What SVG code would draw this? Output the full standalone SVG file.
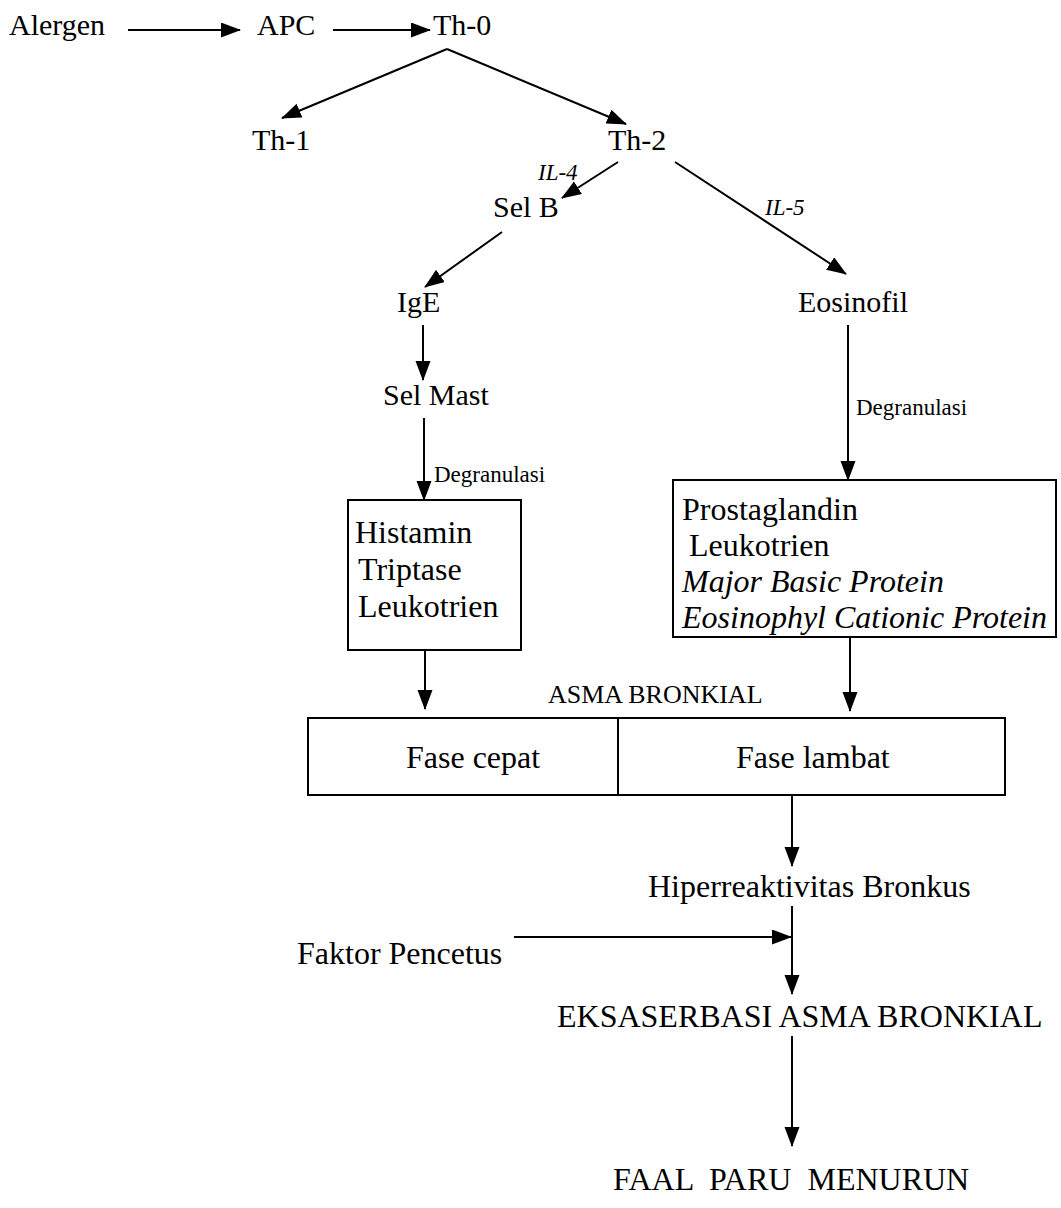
<svg xmlns="http://www.w3.org/2000/svg" width="1061" height="1208" viewBox="0 0 1061 1208">
<style>
text{font-family:"Liberation Serif","Times New Roman",serif;fill:#000}
.t{font-size:30px}
.b{font-size:32px}
.s{font-size:23px}
.i{font-size:23px;font-style:italic}
.bi{font-size:32px;font-style:italic}
.box{fill:none;stroke:#000;stroke-width:2}
.c{fill:none;stroke:#000;stroke-width:2;marker-end:url(#ah)}
.l{fill:none;stroke:#000;stroke-width:2}
</style>
<defs>
<marker id="ah" markerUnits="userSpaceOnUse" markerWidth="20" markerHeight="16" refX="19" refY="7.5" orient="auto">
<path d="M0,0 L20,7.5 L0,15 z" fill="#000"/>
</marker>
</defs>
<rect width="1061" height="1208" fill="#fff"/>
<g id="connectors">
<path class="c" d="M128,30 H240"/>
<path class="c" d="M333,30 H430"/>
<path class="c" d="M447,49 L282,118"/>
<path class="c" d="M447,49 L626,124"/>
<path class="c" d="M618,162 L562,198"/>
<path class="c" d="M675,162 L846,274"/>
<path class="c" d="M502,232 L425,287"/>
<path class="c" d="M423,325 V380"/>
<path class="c" d="M424,418 V500"/>
<path class="c" d="M848,325 V480"/>
<path class="c" d="M425,650 V709"/>
<path class="c" d="M850,637 V711"/>
<path class="c" d="M792,795 V866"/>
<path class="c" d="M792,906 V994"/>
<path class="c" d="M514,937 H791"/>
<path class="c" d="M792,1036 V1146"/>
<text class="i" x="538" y="180">IL-4</text>
<text class="i" x="765" y="215">IL-5</text>
<text class="s" x="434" y="482">Degranulasi</text>
<text class="s" x="856" y="415">Degranulasi</text>
</g>
<g id="alergen"><text class="t" x="9" y="35">Alergen</text></g>
<g id="apc"><text class="t" x="257" y="35">APC</text></g>
<g id="th0"><text class="t" x="433" y="35">Th-0</text></g>
<g id="th1"><text class="t" x="252" y="150">Th-1</text></g>
<g id="th2"><text class="t" x="608" y="150">Th-2</text></g>
<g id="selb"><text class="t" x="493" y="217">Sel B</text></g>
<g id="ige"><text class="t" x="397" y="312">IgE</text></g>
<g id="eosinofil"><text class="t" x="798" y="312">Eosinofil</text></g>
<g id="selmast"><text class="t" x="383" y="405">Sel Mast</text></g>
<g id="mediator-mast">
<rect class="box" x="348" y="500" width="173" height="150"/>
<text class="b" x="355" y="543">Histamin</text>
<text class="b" x="358" y="580">Triptase</text>
<text class="b" x="358" y="617">Leukotrien</text>
</g>
<g id="mediator-eos">
<rect class="box" x="673" y="480" width="383" height="157"/>
<text class="b" x="682" y="520">Prostaglandin</text>
<text class="b" x="689" y="556">Leukotrien</text>
<text class="bi" x="682" y="592">Major Basic Protein</text>
<text class="bi" x="682" y="628">Eosinophyl Cationic Protein</text>
</g>
<g id="asma">
<text x="548" y="703" style="font-size:26px">ASMA BRONKIAL</text>
<rect class="box" x="308" y="718" width="697" height="77"/>
<path class="l" d="M618,718 V795"/>
<text class="b" x="406" y="768">Fase cepat</text>
<text class="b" x="736" y="768">Fase lambat</text>
</g>
<g id="hiper"><text class="b" x="648" y="897">Hiperreaktivitas Bronkus</text></g>
<g id="faktor"><text class="b" x="297" y="964">Faktor Pencetus</text></g>
<g id="eksaserbasi"><text class="b" x="557" y="1027">EKSASERBASI ASMA BRONKIAL</text></g>
<g id="faal"><text class="b" x="613" y="1190" xml:space="preserve">FAAL  PARU  MENURUN</text></g>
</svg>
